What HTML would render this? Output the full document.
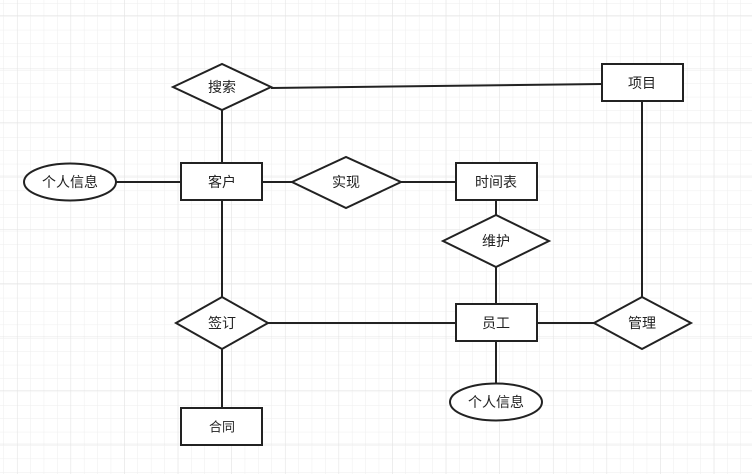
<!DOCTYPE html>
<html><head><meta charset="utf-8"><style>
html,body{margin:0;padding:0;background:#fff}
svg{display:block}
text{font-family:"Liberation Sans","Noto Sans CJK SC",sans-serif;font-size:14px;fill:#222;text-anchor:middle;dominant-baseline:central}
</style></head><body>
<svg width="752" height="474" xmlns="http://www.w3.org/2000/svg">
<defs>
<pattern id="g" x="3.5" y="3" width="13.4" height="13.4" patternUnits="userSpaceOnUse">
<path d="M0 0H13.4M0 0V13.4" stroke="#eeeeee" stroke-width="1" fill="none"/>
</pattern>
<pattern id="G" x="17" y="15" width="53.6" height="53.6" patternUnits="userSpaceOnUse">
<path d="M0 0H53.6M0 0V53.6" stroke="#e2e2e2" stroke-width="1" fill="none"/>
</pattern>
</defs>
<rect width="752" height="474" fill="url(#g)"/>
<rect width="752" height="474" fill="url(#G)"/>
<g stroke="#222" stroke-width="2" fill="none">
<path d="M271 88L602 84"/>
<path d="M222 110V163M222 200V297M222 349V408"/>
<path d="M116 182H181M262 182H292M401 182H456"/>
<path d="M496 200V215M496 267V304M496 341V383"/>
<path d="M268 323H456M537 323H594"/>
<path d="M642 101V297"/>
</g>
<g stroke="#222" stroke-width="2" fill="#fff">
<polygon points="173,87 222,64 271,87 222,110"/>
<rect x="602" y="64" width="81" height="37"/>
<rect x="181" y="163" width="81" height="37"/>
<ellipse cx="70" cy="182" rx="46" ry="18.5"/>
<polygon points="292,182 346,157 401,182 346,208"/>
<rect x="456" y="163" width="81" height="37"/>
<polygon points="443,241 496,215 549,241 496,267"/>
<rect x="456" y="304" width="81" height="37"/>
<polygon points="176,323 222,297 268,323 222,349"/>
<polygon points="594,323 642,297 691,323 642,349"/>
<rect x="181" y="408" width="81" height="37"/>
<ellipse cx="496" cy="402" rx="46" ry="18.5"/>
</g>
<text x="222" y="87">搜索</text>
<text x="642" y="83">项目</text>
<text x="222" y="182">客户</text>
<text x="70" y="182">个人信息</text>
<text x="346" y="182">实现</text>
<text x="496" y="182">时间表</text>
<text x="496" y="241">维护</text>
<text x="496" y="323">员工</text>
<text x="222" y="323">签订</text>
<text x="642" y="323">管理</text>
<text x="222" y="427" style="font-size:13px">合同</text>
<text x="496" y="402">个人信息</text>
</svg>
</body></html>
